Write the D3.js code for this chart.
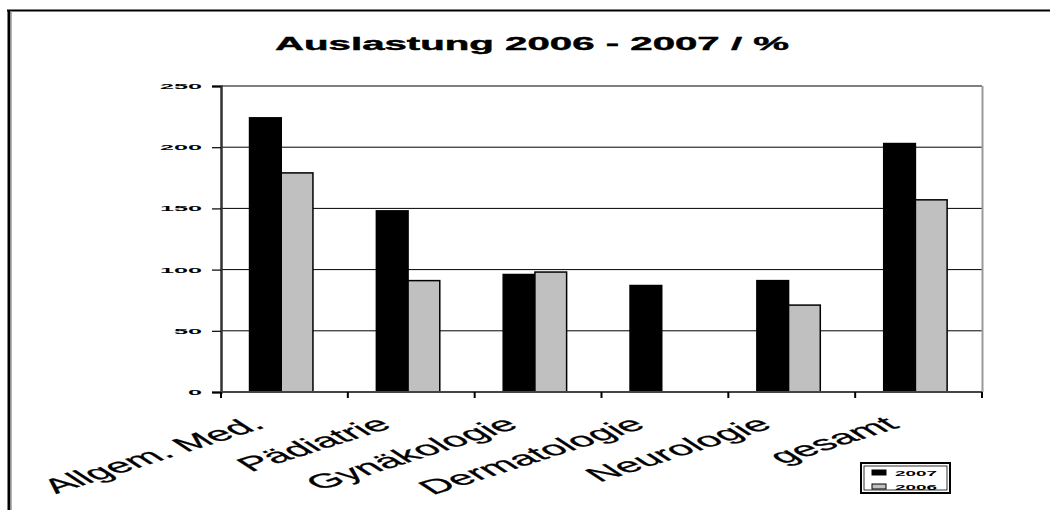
<!DOCTYPE html>
<html>
<head>
<meta charset="utf-8">
<script src="https://cdn.jsdelivr.net/npm/d3@7"></script>
<style>
  html, body { margin: 0; padding: 0; background: #fff; }
  svg { display: block; }
</style>
</head>
<body>
<svg id="chart" width="1050" height="510"></svg>
<script>
// Daten
const categories = ['Allgem. Med.', 'Pädiatrie', 'Gynäkologie', 'Dermatologie', 'Neurologie', 'gesamt'];
const series = ['2007', '2006'];
const values2007 = [224, 148, 96, 87, 91, 203];
const values2006 = [179, 91, 98, null, 71, 157];
const yTicks = [0, 50, 100, 150, 200, 250];

const colors = d3.scaleOrdinal().domain(series).range(['#000000', '#c0c0c0']);

const svg = d3.select('#chart');
const plot = { left: 221, right: 982, top: 86, bottom: 392 };

const x = d3.scaleBand().domain(categories).range([plot.left, plot.right]);
const bw = x.bandwidth();
const xInner = d3.scaleBand().domain(series).range([bw * 0.225, bw * 0.725]);
const y = d3.scaleLinear().domain([0, 250]).range([plot.bottom, plot.top]);

// Rahmen
svg.append('line').attr('x1', 7).attr('x2', 1050).attr('y1', 10.5).attr('y2', 10.5)
    .attr('stroke', '#000').attr('stroke-width', 2);
svg.append('line').attr('x1', 9).attr('x2', 9).attr('y1', 10).attr('y2', 510)
    .attr('stroke', '#000').attr('stroke-width', 3);
svg.append('line').attr('x1', 11).attr('x2', 11).attr('y1', 11).attr('y2', 510)
    .attr('stroke', '#999').attr('stroke-width', 1.5);

// Titel
svg.append('text')
    .attr('x', 532).attr('y', 50)
    .attr('text-anchor', 'middle')
    .attr('font-family', 'Liberation Sans, Arial, sans-serif')
    .attr('font-weight', 'bold')
    .attr('font-size', 18)
    .attr('stroke', '#000').attr('stroke-width', 0.4)
    .attr('textLength', 514)
    .attr('lengthAdjust', 'spacingAndGlyphs')
    .text('Auslastung 2006 - 2007 / %');

// Gitterlinien
svg.append('g').selectAll('line')
    .data(yTicks.filter(d => d > 0))
    .join('line')
    .attr('x1', plot.left).attr('x2', plot.right)
    .attr('y1', d => y(d)).attr('y2', d => y(d))
    .attr('stroke', '#000').attr('stroke-width', 1);

// rechter Rand
svg.append('line').attr('x1', plot.right + 0.5).attr('x2', plot.right + 0.5)
    .attr('y1', plot.top).attr('y2', plot.bottom)
    .attr('stroke', '#9a9a9a').attr('stroke-width', 2);

// Balken
const rows = categories.map((c, i) => ({ cat: c, vals: [
    { s: '2007', v: values2007[i] },
    { s: '2006', v: values2006[i] }
] }));

svg.append('g').selectAll('g')
    .data(rows)
    .join('g')
    .attr('transform', d => `translate(${x(d.cat)},0)`)
    .selectAll('rect')
    .data(d => d.vals.filter(v => v.v != null))
    .join('rect')
    .attr('x', d => xInner(d.s))
    .attr('width', xInner.bandwidth())
    .attr('y', d => y(d.v))
    .attr('height', d => y(0) - y(d.v))
    .attr('fill', d => colors(d.s))
    .attr('stroke', '#000')
    .attr('stroke-width', 1.5);

// Y-Achse
const yAxis = svg.append('g')
    .attr('transform', `translate(${plot.left},0)`)
    .call(d3.axisLeft(y).tickValues(yTicks).tickSize(9).tickPadding(10));
yAxis.select('.domain').attr('stroke', '#333').attr('stroke-width', 2.5);
yAxis.selectAll('.tick line').attr('stroke', '#000').attr('stroke-width', 1.2);
yAxis.selectAll('.tick text')
    .attr('font-family', 'Liberation Sans, Arial, sans-serif')
    .attr('font-weight', 'bold')
    .attr('font-size', 8)
    .attr('fill', '#000')
    .attr('textLength', d => String(d).length * 14)
    .attr('lengthAdjust', 'spacingAndGlyphs');

// X-Achse
const xAxis = svg.append('g')
    .attr('transform', `translate(0,${plot.bottom})`);
xAxis.append('line').attr('x1', plot.left).attr('x2', plot.right)
    .attr('stroke', '#444').attr('stroke-width', 2);
xAxis.selectAll('line.tk')
    .data(categories.map(c => x(c)).concat([plot.right]))
    .join('line')
    .attr('class', 'tk')
    .attr('x1', d => d).attr('x2', d => d)
    .attr('y1', 0).attr('y2', 6)
    .attr('stroke', '#000').attr('stroke-width', 2);

svg.append('g').selectAll('text')
    .data(categories)
    .join('text')
    .attr('transform', d => `translate(${x(d) + bw / 2 - 18},${plot.bottom + 35}) scale(2.2,1) rotate(-35)`)
    .attr('text-anchor', 'end')
    .attr('font-family', 'Liberation Sans, Arial, sans-serif')
    .attr('font-size', 20)
    .attr('fill', '#000')
    .attr('stroke', '#000').attr('stroke-width', 0.25)
    .text(d => d);

// Legende
const legend = svg.append('g').attr('transform', 'translate(861,463)');
legend.append('rect').attr('width', 89).attr('height', 30)
    .attr('fill', '#fff').attr('stroke', '#000').attr('stroke-width', 2);
legend.append('rect').attr('x', 3).attr('y', 3).attr('width', 83).attr('height', 24)
    .attr('fill', 'none').attr('stroke', '#000').attr('stroke-width', 0.8);
const li = legend.selectAll('g.item')
    .data(series)
    .join('g')
    .attr('class', 'item')
    .attr('transform', (d, i) => `translate(0,${7 + i * 14})`);
li.append('rect').attr('x', 11).attr('width', 14).attr('height', 5)
    .attr('fill', d => colors(d)).attr('stroke', '#000').attr('stroke-width', 1);
li.append('text').attr('x', 34).attr('y', 5.5)
    .attr('font-family', 'Liberation Sans, Arial, sans-serif')
    .attr('font-weight', 'bold')
    .attr('font-size', 7)
    .attr('textLength', 42)
    .attr('lengthAdjust', 'spacingAndGlyphs')
    .text(d => d);
</script>
</body>
</html>
